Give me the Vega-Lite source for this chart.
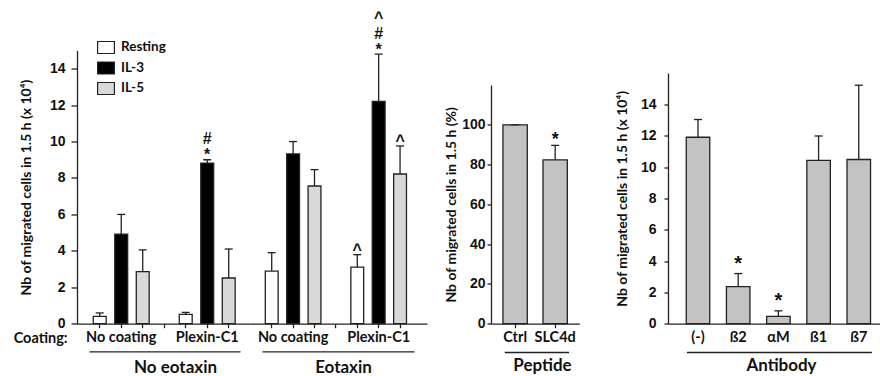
{
  "$schema": "https://vega.github.io/schema/vega-lite/v6.json",
  "padding": {"left": 13, "top": 9.5, "right": 0, "bottom": 0},
  "bounds": "flush",
  "spacing": 0,
  "datasets": {
    "migration": [
      {"eotaxin": "No eotaxin", "coating": "No coating", "stim": "Resting", "bar": "No coating|Resting", "mean": 0.40, "upper": 0.59, "s1": "", "s2": "", "s3": ""},
      {"eotaxin": "No eotaxin", "coating": "No coating", "stim": "IL-3", "bar": "No coating|IL-3", "mean": 4.91, "upper": 6.0, "s1": "", "s2": "", "s3": ""},
      {"eotaxin": "No eotaxin", "coating": "No coating", "stim": "IL-5", "bar": "No coating|IL-5", "mean": 2.86, "upper": 4.05, "s1": "", "s2": "", "s3": ""},
      {"eotaxin": "No eotaxin", "coating": "Plexin-C1", "stim": "Resting", "bar": "Plexin-C1|Resting", "mean": 0.51, "upper": 0.62, "s1": "", "s2": "", "s3": ""},
      {"eotaxin": "No eotaxin", "coating": "Plexin-C1", "stim": "IL-3", "bar": "Plexin-C1|IL-3", "mean": 8.82, "upper": 9.0, "s1": "*", "s2": "#", "s3": ""},
      {"eotaxin": "No eotaxin", "coating": "Plexin-C1", "stim": "IL-5", "bar": "Plexin-C1|IL-5", "mean": 2.51, "upper": 4.1, "s1": "", "s2": "", "s3": ""},
      {"eotaxin": "Eotaxin", "coating": "No coating", "stim": "Resting", "bar": "No coating|Resting", "mean": 2.89, "upper": 3.9, "s1": "", "s2": "", "s3": ""},
      {"eotaxin": "Eotaxin", "coating": "No coating", "stim": "IL-3", "bar": "No coating|IL-3", "mean": 9.32, "upper": 10.0, "s1": "", "s2": "", "s3": ""},
      {"eotaxin": "Eotaxin", "coating": "No coating", "stim": "IL-5", "bar": "No coating|IL-5", "mean": 7.56, "upper": 8.46, "s1": "", "s2": "", "s3": ""},
      {"eotaxin": "Eotaxin", "coating": "Plexin-C1", "stim": "Resting", "bar": "Plexin-C1|Resting", "mean": 3.11, "upper": 3.79, "s1": "^", "s2": "", "s3": ""},
      {"eotaxin": "Eotaxin", "coating": "Plexin-C1", "stim": "IL-3", "bar": "Plexin-C1|IL-3", "mean": 12.21, "upper": 14.8, "s1": "*", "s2": "#", "s3": "^"},
      {"eotaxin": "Eotaxin", "coating": "Plexin-C1", "stim": "IL-5", "bar": "Plexin-C1|IL-5", "mean": 8.22, "upper": 9.76, "s1": "^", "s2": "", "s3": ""}
    ],
    "peptide": [
      {"peptide": "Ctrl", "mean": 100, "upper": 100, "sig": ""},
      {"peptide": "SLC4d", "mean": 82.4, "upper": 89.6, "sig": "*"}
    ],
    "antibody": [
      {"antibody": "(-)", "mean": 11.9, "upper": 13.03, "sig": ""},
      {"antibody": "ß2", "mean": 2.36, "upper": 3.2, "sig": "*"},
      {"antibody": "αM", "mean": 0.47, "upper": 0.82, "sig": "*"},
      {"antibody": "ß1", "mean": 10.42, "upper": 11.98, "sig": ""},
      {"antibody": "ß7", "mean": 10.48, "upper": 15.22, "sig": ""}
    ]
  },
  "hconcat": [
    {
      "width": 173,
      "height": 273.2,
      "data": {"name": "migration"},
      "transform": [{"filter": "datum.eotaxin == 'No eotaxin'"}],
      "layer": [
        {
          "layer": [
            {
              "mark": {"type": "bar", "stroke": "#222", "strokeWidth": 1.3},
              "encoding": {
                "x": {
                  "field": "bar", "type": "nominal",
                  "scale": {"domain": ["No coating|Resting", "No coating|IL-3", "No coating|IL-5", "gap", "Plexin-C1|Resting", "Plexin-C1|IL-3", "Plexin-C1|IL-5"], "paddingInner": 0.4, "paddingOuter": 0.723, "align": 0.523},
                  "axis": {
                    "orient": "bottom", "labelAngle": 0, "tickSize": 4, "labelPadding": 3, "labelFontSize": 14.5,
                    "labelOverlap": false, "labelBound": false, "labelFlush": false, "labelDx": 5,
                    "labelExpr": "datum.value == 'No coating|IL-3' ? 'No coating' : datum.value == 'Plexin-C1|IL-3' ? 'Plexin-C1' : ''",
                    "title": "Coating:", "titleX": -10, "titleY": 15.3, "titleAlign": "right", "titleBaseline": "middle", "titleFontSize": 14.5
                  }
                },
                "y": {
                  "field": "mean", "type": "quantitative",
                  "scale": {"domain": [0, 15], "nice": false},
                  "axis": {"values": [0, 2, 4, 6, 8, 10, 12, 14], "tickCount": 20, "labelOverlap": false, "tickSize": 6, "labelPadding": 6, "title": "Nb of migrated cells in 1.5 h (x 10⁴)", "titleFontSize": 14, "titlePadding": 16}
                },
                "fill": {
                  "field": "stim", "type": "nominal",
                  "scale": {"domain": ["Resting", "IL-3", "IL-5"], "range": ["#ffffff", "#000000", "#d9d9d9"]},
                  "legend": {
                    "orient": "none", "legendX": 22, "legendY": -10, "title": null,
                    "symbolType": "M-1.4,-1H1.4V1H-1.4Z", "symbolSize": 144, "symbolStrokeColor": "#222", "symbolStrokeWidth": 1.2, "symbolOpacity": 1,
                    "labelFont": "Lato", "labelFontSize": 13.5, "labelFontWeight": "bold", "labelColor": "#111", "labelOffset": 8, "rowPadding": 2.5
                  }
                }
              }
            },
            {
              "mark": {"type": "rule", "stroke": "#222", "strokeWidth": 1.3},
              "encoding": {"x": {"field": "bar", "type": "nominal"}, "y": {"field": "mean", "type": "quantitative"}, "y2": {"field": "upper"}}
            },
            {
              "mark": {"type": "tick", "color": "#222", "thickness": 1.3, "size": 8, "opacity": 1},
              "encoding": {"x": {"field": "bar", "type": "nominal"}, "y": {"field": "upper", "type": "quantitative"}}
            },
            {
              "mark": {"type": "text", "font": "Liberation Sans", "fontWeight": "bold", "fontSize": 16, "baseline": "alphabetic", "dy": 0.5, "color": "#111"},
              "encoding": {"x": {"field": "bar", "type": "nominal"}, "y": {"field": "upper", "type": "quantitative"}, "text": {"field": "s1"}}
            },
            {
              "mark": {"type": "text", "font": "Liberation Sans", "fontWeight": "bold", "fontSize": 16, "baseline": "alphabetic", "dy": -15.5, "color": "#111"},
              "encoding": {"x": {"field": "bar", "type": "nominal"}, "y": {"field": "upper", "type": "quantitative"}, "text": {"field": "s2"}}
            },
            {
              "mark": {"type": "text", "font": "Liberation Sans", "fontWeight": "bold", "fontSize": 16, "baseline": "alphabetic", "dy": -31.5, "color": "#111"},
              "encoding": {"x": {"field": "bar", "type": "nominal"}, "y": {"field": "upper", "type": "quantitative"}, "text": {"field": "s3"}}
            }
          ]
        },
        {
          "mark": {"type": "point", "opacity": 0},
          "encoding": {
            "x": {
              "field": "bar", "type": "nominal",
              "scale": {"domain": ["No coating|Resting", "No coating|IL-3", "No coating|IL-5", "gap", "Plexin-C1|Resting", "Plexin-C1|IL-3", "Plexin-C1|IL-5"], "range": [12, 163]},
              "axis": {"orient": "bottom", "offset": 27.6, "labels": false, "ticks": false, "title": "No eotaxin", "titleX": 98, "titleY": 16.5, "titleBaseline": "middle", "titleFontSize": 17}
            }
          }
        }
      ],
      "resolve": {"scale": {"x": "independent"}, "axis": {"x": "independent"}}
    },
    {
      "width": 240.7,
      "height": 273.2,
      "data": {"name": "migration"},
      "transform": [{"filter": "datum.eotaxin == 'Eotaxin'"}],
      "layer": [
        {
          "layer": [
            {
              "mark": {"type": "bar", "stroke": "#222", "strokeWidth": 1.3},
              "encoding": {
                "x": {
                  "field": "bar", "type": "nominal",
                  "scale": {"domain": ["No coating|Resting", "No coating|IL-3", "No coating|IL-5", "gap", "Plexin-C1|Resting", "Plexin-C1|IL-3", "Plexin-C1|IL-5"], "range": [0, 177], "paddingInner": 0.4, "paddingOuter": 0.8375, "align": 0.427},
                  "axis": {
                    "orient": "bottom", "labelAngle": 0, "tickSize": 4, "labelPadding": 3, "labelFontSize": 14.5,
                    "labelOverlap": false, "labelBound": false, "labelFlush": false, "labelDx": 5,
                    "labelExpr": "datum.value == 'No coating|IL-3' ? 'No coating' : datum.value == 'Plexin-C1|IL-3' ? 'Plexin-C1' : ''",
                    "title": null
                  }
                },
                "y": {"field": "mean", "type": "quantitative", "scale": {"domain": [0, 15], "nice": false}, "axis": null},
                "fill": {
                  "field": "stim", "type": "nominal",
                  "scale": {"domain": ["Resting", "IL-3", "IL-5"], "range": ["#ffffff", "#000000", "#d9d9d9"]},
                  "legend": null
                }
              }
            },
            {
              "mark": {"type": "rule", "stroke": "#222", "strokeWidth": 1.3},
              "encoding": {"x": {"field": "bar", "type": "nominal"}, "y": {"field": "mean", "type": "quantitative"}, "y2": {"field": "upper"}}
            },
            {
              "mark": {"type": "tick", "color": "#222", "thickness": 1.3, "size": 8, "opacity": 1},
              "encoding": {"x": {"field": "bar", "type": "nominal"}, "y": {"field": "upper", "type": "quantitative"}}
            },
            {
              "mark": {"type": "text", "font": "Liberation Sans", "fontWeight": "bold", "fontSize": 16, "baseline": "alphabetic", "dy": 0.5, "color": "#111"},
              "encoding": {"x": {"field": "bar", "type": "nominal"}, "y": {"field": "upper", "type": "quantitative"}, "text": {"field": "s1"}}
            },
            {
              "mark": {"type": "text", "font": "Liberation Sans", "fontWeight": "bold", "fontSize": 16, "baseline": "alphabetic", "dy": -15.5, "color": "#111"},
              "encoding": {"x": {"field": "bar", "type": "nominal"}, "y": {"field": "upper", "type": "quantitative"}, "text": {"field": "s2"}}
            },
            {
              "mark": {"type": "text", "font": "Liberation Sans", "fontWeight": "bold", "fontSize": 16, "baseline": "alphabetic", "dy": -31.5, "color": "#111"},
              "encoding": {"x": {"field": "bar", "type": "nominal"}, "y": {"field": "upper", "type": "quantitative"}, "text": {"field": "s3"}}
            }
          ]
        },
        {
          "mark": {"type": "point", "opacity": 0},
          "encoding": {
            "x": {
              "field": "bar", "type": "nominal",
              "scale": {"domain": ["No coating|Resting", "No coating|IL-3", "No coating|IL-5", "gap", "Plexin-C1|Resting", "Plexin-C1|IL-3", "Plexin-C1|IL-5"], "range": [12, 164]},
              "axis": {"orient": "bottom", "offset": 27.6, "labels": false, "ticks": false, "title": "Eotaxin", "titleX": 93, "titleY": 16.5, "titleBaseline": "middle", "titleFontSize": 17}
            }
          }
        }
      ],
      "resolve": {"scale": {"x": "independent"}, "axis": {"x": "independent"}}
    },
    {
      "width": 176.6,
      "height": 273.2,
      "data": {"name": "peptide"},
      "layer": [
        {
          "layer": [
            {
              "mark": {"type": "bar", "fill": "#c3c3c3", "stroke": "#222", "strokeWidth": 1.3},
              "encoding": {
                "x": {
                  "field": "peptide", "type": "nominal", "sort": null,
                  "scale": {"range": [0, 88.3], "paddingInner": 0.392, "paddingOuter": 0.299},
                  "axis": {"orient": "bottom", "labelAngle": 0, "tickSize": 4, "labelPadding": 3, "labelFontSize": 14.5, "title": null}
                },
                "y": {
                  "field": "mean", "type": "quantitative",
                  "scale": {"domain": [0, 120], "nice": false, "range": [273.2, 34.5]},
                  "axis": {"values": [0, 20, 40, 60, 80, 100], "tickCount": 20, "labelOverlap": false, "tickSize": 4, "labelPadding": 2, "title": "Nb of migrated cells in 1.5 h (%)", "titleFontSize": 14, "titlePadding": 3}
                }
              }
            },
            {
              "mark": {"type": "rule", "stroke": "#222", "strokeWidth": 1.3},
              "encoding": {"x": {"field": "peptide", "type": "nominal", "sort": null}, "y": {"field": "mean", "type": "quantitative"}, "y2": {"field": "upper"}}
            },
            {
              "mark": {"type": "tick", "color": "#222", "thickness": 1.3, "size": 8, "opacity": 1},
              "encoding": {"x": {"field": "peptide", "type": "nominal", "sort": null}, "y": {"field": "upper", "type": "quantitative"}}
            },
            {
              "mark": {"type": "text", "font": "Liberation Sans", "fontWeight": "bold", "fontSize": 18, "baseline": "alphabetic", "dy": 0, "color": "#111"},
              "encoding": {"x": {"field": "peptide", "type": "nominal", "sort": null}, "y": {"field": "upper", "type": "quantitative"}, "text": {"field": "sig"}}
            }
          ]
        },
        {
          "mark": {"type": "point", "opacity": 0},
          "encoding": {
            "x": {
              "field": "peptide", "type": "nominal", "sort": null,
              "scale": {"range": [13.3, 77.6]},
              "axis": {"orient": "bottom", "offset": 28.3, "labels": false, "ticks": false, "title": "Peptide", "titleX": 51, "titleY": 13.5, "titleBaseline": "middle", "titleFontSize": 17}
            }
          }
        }
      ],
      "resolve": {"scale": {"x": "independent"}, "axis": {"x": "independent"}}
    },
    {
      "width": 211.7,
      "height": 273.2,
      "data": {"name": "antibody"},
      "layer": [
        {
          "layer": [
            {
              "mark": {"type": "bar", "fill": "#c3c3c3", "stroke": "#222", "strokeWidth": 1.3},
              "encoding": {
                "x": {
                  "field": "antibody", "type": "nominal", "sort": null,
                  "scale": {"paddingInner": 0.415, "paddingOuter": 0.341, "align": 0.666},
                  "axis": {"orient": "bottom", "labelAngle": 0, "ticks": false, "labelPadding": 7, "labelFontSize": 14.5, "title": null}
                },
                "y": {
                  "field": "mean", "type": "quantitative",
                  "scale": {"domain": [0, 16], "nice": false, "range": [273.2, 22.5]},
                  "axis": {"values": [0, 2, 4, 6, 8, 10, 12, 14], "tickCount": 20, "labelOverlap": false, "tickSize": 4, "labelPadding": 8, "title": "Nb of migrated cells in 1.5 h (x 10⁴)", "titleFontSize": 14, "titlePadding": 11}
                }
              }
            },
            {
              "mark": {"type": "rule", "stroke": "#222", "strokeWidth": 1.3},
              "encoding": {"x": {"field": "antibody", "type": "nominal", "sort": null}, "y": {"field": "mean", "type": "quantitative"}, "y2": {"field": "upper"}}
            },
            {
              "mark": {"type": "tick", "color": "#222", "thickness": 1.3, "size": 8, "opacity": 1},
              "encoding": {"x": {"field": "antibody", "type": "nominal", "sort": null}, "y": {"field": "upper", "type": "quantitative"}}
            },
            {
              "mark": {"type": "text", "font": "Liberation Sans", "fontWeight": "bold", "fontSize": 20, "baseline": "alphabetic", "dy": -4, "color": "#111"},
              "encoding": {"x": {"field": "antibody", "type": "nominal", "sort": null}, "y": {"field": "upper", "type": "quantitative"}, "text": {"field": "sig"}}
            }
          ]
        },
        {
          "mark": {"type": "point", "opacity": 0},
          "encoding": {
            "x": {
              "field": "antibody", "type": "nominal", "sort": null,
              "scale": {"range": [18.4, 203.4]},
              "axis": {"orient": "bottom", "offset": 28.3, "labels": false, "ticks": false, "title": "Antibody", "titleX": 113, "titleY": 13.5, "titleBaseline": "middle", "titleFontSize": 17}
            }
          }
        }
      ],
      "resolve": {"scale": {"x": "independent"}, "axis": {"x": "independent"}}
    }
  ],
  "resolve": {"scale": {"x": "independent", "y": "independent", "fill": "independent"}},
  "config": {
    "font": "Lato",
    "view": {"stroke": null},
    "axis": {
      "domainColor": "#222", "tickColor": "#222", "domainWidth": 1.3, "tickWidth": 1.3,
      "labelColor": "#111", "titleColor": "#111", "labelFont": "Lato", "titleFont": "Lato",
      "labelFontWeight": "bold", "titleFontWeight": "bold", "grid": false, "labelFontSize": 14, "titleFontSize": 14
    },
    "axisY": {"labelFont": "Liberation Sans Narrow, Liberation Sans", "labelFontSize": 14}
  }
}
